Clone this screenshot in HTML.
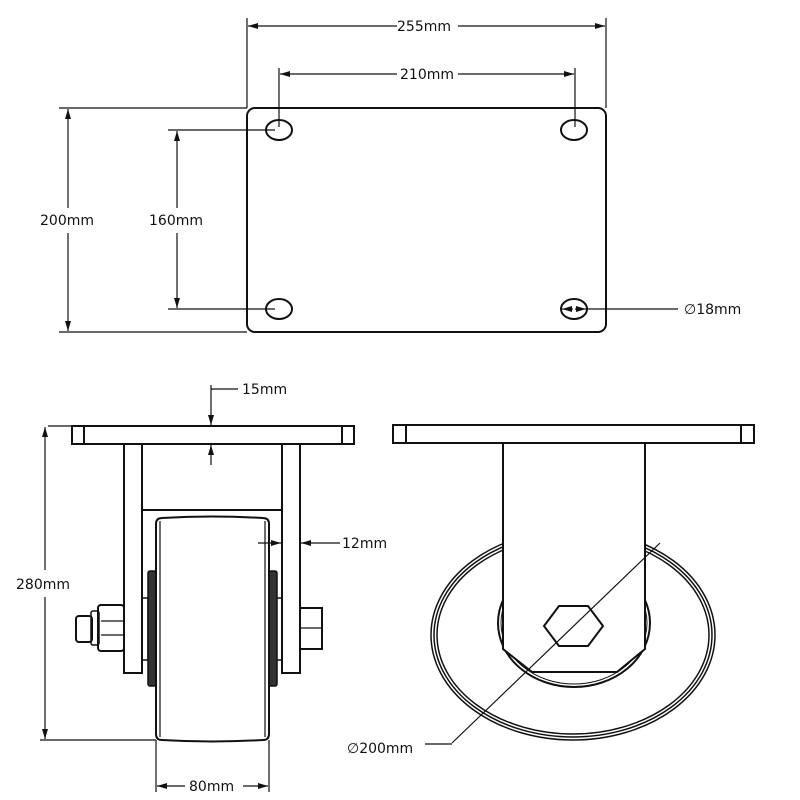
<!DOCTYPE html>
<html><head><meta charset="utf-8"><style>
html,body{margin:0;padding:0;background:#fff}
svg{display:block}
text{font-family:"DejaVu Sans","Liberation Sans",sans-serif;font-size:14px;fill:#111}
</style></head><body>
<svg width="800" height="800" viewBox="0 0 800 800" xmlns="http://www.w3.org/2000/svg">
<defs>
<marker id="a" viewBox="0 0 10 6" refX="10" refY="3" markerWidth="10" markerHeight="6" orient="auto-start-reverse" markerUnits="userSpaceOnUse"><path d="M0,0 L10,3 L0,6Z" fill="#111"/></marker>
</defs>
<g stroke="#111" fill="none" stroke-width="1.2">
<!-- TOP VIEW -->
<rect x="247" y="108" width="359" height="224" rx="8" stroke-width="2"/>
<ellipse cx="279" cy="130" rx="13" ry="10" stroke-width="2"/>
<ellipse cx="574" cy="130" rx="13" ry="10" stroke-width="2"/>
<ellipse cx="279" cy="309" rx="13" ry="10" stroke-width="2"/>
<ellipse cx="574" cy="309" rx="13" ry="10" stroke-width="2"/>
<line x1="247" y1="18" x2="247" y2="108"/>
<line x1="606" y1="18" x2="606" y2="108"/>
<line x1="248" y1="26" x2="397" y2="26" marker-start="url(#a)"/>
<line x1="458" y1="26" x2="605" y2="26" marker-end="url(#a)"/>
<line x1="279" y1="68" x2="279" y2="127"/>
<line x1="575" y1="68" x2="575" y2="127"/>
<line x1="280" y1="74" x2="397" y2="74" marker-start="url(#a)"/>
<line x1="458" y1="74" x2="574" y2="74" marker-end="url(#a)"/>
<line x1="59" y1="108" x2="247" y2="108"/>
<line x1="59" y1="332" x2="247" y2="332"/>
<line x1="68" y1="109" x2="68" y2="208" marker-start="url(#a)"/>
<line x1="68" y1="233" x2="68" y2="331" marker-end="url(#a)"/>
<line x1="168" y1="130" x2="275" y2="130"/>
<line x1="168" y1="309" x2="275" y2="309"/>
<line x1="177" y1="131" x2="177" y2="208" marker-start="url(#a)"/>
<line x1="177" y1="233" x2="177" y2="308" marker-end="url(#a)"/>
<line x1="562" y1="309" x2="573" y2="309" marker-start="url(#a)"/>
<line x1="575" y1="309" x2="586" y2="309" marker-end="url(#a)"/>
<line x1="586" y1="309" x2="678" y2="309"/>

<!-- FRONT VIEW -->
<rect x="72" y="426" width="282" height="18" stroke-width="2"/>
<line x1="84" y1="426" x2="84" y2="444" stroke-width="2"/>
<line x1="342" y1="426" x2="342" y2="444" stroke-width="2"/>
<rect x="124" y="444" width="18" height="229" stroke-width="2"/>
<rect x="282" y="444" width="18" height="229" stroke-width="2"/>
<line x1="142" y1="510" x2="282" y2="510" stroke-width="2"/>
<rect x="142" y="598" width="6" height="62" stroke-width="1.5"/>
<rect x="276" y="598" width="6" height="62" stroke-width="1.5"/>
<rect x="148" y="571" width="8" height="115" rx="2" fill="#333" stroke-width="1.5"/>
<rect x="269" y="571" width="8" height="115" rx="2" fill="#333" stroke-width="1.5"/>
<path d="M156,524 Q156,518 162,518 Q212,515 263,518 Q269,518 269,524 L269,734 Q269,740 263,740 Q212,743 162,740 Q156,740 156,734Z" stroke-width="2"/>
<line x1="160" y1="521" x2="160" y2="737"/>
<line x1="265" y1="521" x2="265" y2="737"/>
<rect x="98" y="605" width="26" height="46" rx="3" stroke-width="2"/>
<line x1="101" y1="621" x2="124" y2="621"/><line x1="101" y1="635" x2="124" y2="635"/>
<rect x="91" y="611" width="8" height="34" rx="2" stroke-width="1.5"/>
<rect x="76" y="616" width="16" height="26" rx="3" stroke-width="2"/>
<rect x="300" y="608" width="22" height="41" stroke-width="2"/>
<line x1="300" y1="628" x2="322" y2="628"/>
<line x1="211" y1="385" x2="211" y2="425" marker-end="url(#a)"/>
<line x1="211" y1="465" x2="211" y2="445" marker-end="url(#a)"/>
<line x1="211" y1="389" x2="238" y2="389"/>
<line x1="48" y1="426" x2="72" y2="426"/>
<line x1="40" y1="740" x2="156" y2="740"/>
<line x1="45" y1="427" x2="45" y2="570" marker-start="url(#a)"/>
<line x1="45" y1="597" x2="45" y2="739" marker-end="url(#a)"/>
<line x1="258" y1="543" x2="281" y2="543" marker-end="url(#a)"/>
<line x1="340" y1="543" x2="301" y2="543" marker-end="url(#a)"/>
<line x1="156" y1="740" x2="156" y2="792"/>
<line x1="269" y1="740" x2="269" y2="792"/>
<line x1="157" y1="786" x2="185" y2="786" marker-start="url(#a)"/>
<line x1="243" y1="786" x2="268" y2="786" marker-end="url(#a)"/>

<!-- SIDE VIEW -->
<ellipse cx="573" cy="635" rx="142" ry="105" stroke-width="1.5"/>
<ellipse cx="573" cy="635" rx="139" ry="102" stroke-width="1.5"/>
<ellipse cx="573" cy="635" rx="136" ry="99" stroke-width="1.5"/>
<ellipse cx="574" cy="623" rx="76" ry="64" stroke-width="2"/>
<ellipse cx="574" cy="623" rx="73" ry="61" stroke-width="1"/>
<path d="M503,443 L503,649 L532,672 L617,672 L645,649 L645,443Z" fill="#fff" stroke-width="2"/>
<rect x="393" y="425" width="361" height="18" stroke-width="2"/>
<line x1="406" y1="425" x2="406" y2="443" stroke-width="2"/>
<line x1="741" y1="425" x2="741" y2="443" stroke-width="2"/>
<polygon points="544,626 559,606 588,606 603,626 588,646 559,646" stroke-width="2"/>
<line x1="452" y1="743" x2="660" y2="543"/>
<line x1="425" y1="744" x2="452" y2="744"/>
</g>
<text x="397" y="31">255mm</text>
<text x="400" y="79">210mm</text>
<text x="40" y="225">200mm</text>
<text x="149" y="225">160mm</text>
<text x="684" y="314">∅18mm</text>
<text x="242" y="394">15mm</text>
<text x="342" y="548">12mm</text>
<text x="16" y="589">280mm</text>
<text x="189" y="791">80mm</text>
<text x="347" y="753">∅200mm</text>
</svg>
</body></html>
